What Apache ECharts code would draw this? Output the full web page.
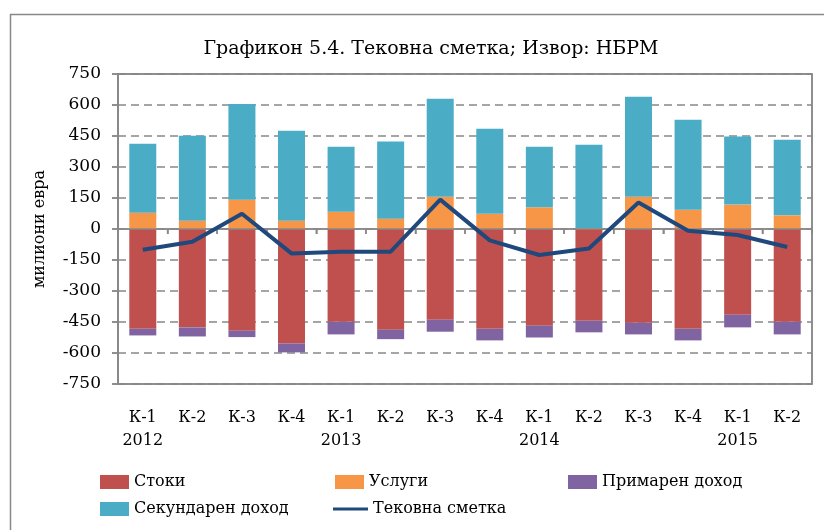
<!DOCTYPE html>
<html>
<head>
<meta charset="utf-8">
<script src="https://cdn.jsdelivr.net/npm/echarts@6/dist/echarts.min.js"></script>
<style>
      html, body { margin: 0; padding: 0; background: #fff; }
      #chart { width: 824px; height: 530px; }
</style>
</head>
<body>
<div id="chart"></div>
<script>
// квартали и години
const quarters = ["К-1", "К-2", "К-3", "К-4", "К-1", "К-2", "К-3", "К-4", "К-1", "К-2", "К-3", "К-4", "К-1", "К-2"];
const years = ["2012", "", "", "", "2013", "", "", "", "2014", "", "", "", "2015", ""];

// милиони евра
const stoki = [-483, -476, -492, -554, -449, -487, -439, -483, -468, -444, -454, -483, -415, -449];
const uslugi = [79, 40, 142, 40, 84, 50, 156, 74, 105, 5, 156, 93, 118, 66];
const primaren = [-32, -44, -31, -43, -61, -46, -58, -56, -57, -56, -56, -56, -61, -61];
const sekundaren = [334, 411, 463, 436, 314, 373, 474, 411, 293, 403, 484, 436, 329, 366];
const tekovna = [-100, -62, 74, -118, -110, -110, 142, -55, -126, -94, 128, -8, -29, -87];

const yTicks = { min: -750, max: 750, interval: 150 };

const font = "DejaVu Serif";
const gray = "#888888";

const categories = quarters.map((q, i) => (years[i] ? q + "\n" + years[i] : q));
// една точка по квартал, за рамката и цртичките на нултата линија
const frameData = quarters.map((q, i) => [i, 0]);

const chart = echarts.init(document.getElementById("chart"));

function legendAt(name, left, top, isLine) {
      return {
            data: [name],
            icon: "rect",
            left: left,
            top: top,
            itemWidth: isLine ? 35 : 29,
            itemHeight: isLine ? 3 : 14,
            itemGap: 5,
            padding: 0,
            textStyle: { fontFamily: font, fontSize: 16, color: "#000" },
      };
}

function seg(x1, y1, x2, y2) {
      return {
            type: "line",
            shape: { x1: x1, y1: y1, x2: x2, y2: y2 },
            style: { stroke: gray, lineWidth: 1.5, fill: null },
      };
}

// рамка, нулта линија и цртички, преку скалите на графиконот
function renderFrame(params, api) {
      const cs = params.coordSys;
      const i = params.dataIndex;
      const bw = api.size([1, 0])[0];
      const p = api.coord([i, 0]);
      const children = [];
      if (i < quarters.length - 1) {
            children.push(seg(p[0] + bw / 2, p[1], p[0] + bw / 2, p[1] + 5));
      }
      if (i === 0) {
            children.push({
                  type: "rect",
                  shape: { x: cs.x, y: cs.y, width: cs.width, height: cs.height },
                  style: { fill: "none", stroke: gray, lineWidth: 1.5 },
            });
            children.push(seg(cs.x, p[1], cs.x + cs.width, p[1]));
            for (let v = yTicks.min; v <= yTicks.max; v += yTicks.interval) {
                  const yy = api.coord([0, v])[1];
                  children.push(seg(cs.x - 6, yy, cs.x, yy));
            }
      }
      return { type: "group", children: children };
}

const option = {
      animation: false,
      textStyle: { fontFamily: font },
      graphic: [
            {
                  type: "rect",
                  left: 8,
                  top: 12,
                  shape: { width: 840, height: 540 },
                  style: { fill: "none", stroke: gray, lineWidth: 1.5 },
                  silent: true,
            },
      ],
      title: {
            text: "Графикон 5.4. Тековна сметка; Извор: НБРМ",
            left: 426,
            textAlign: "center",
            top: 35,
            textStyle: { fontFamily: font, fontSize: 19, fontWeight: "normal", color: "#000" },
      },
      legend: [
            legendAt("Стоки", 100, 474),
            legendAt("Услуги", 335, 474),
            legendAt("Примарен доход", 568, 474),
            legendAt("Секундарен доход", 100, 501),
            legendAt("Тековна сметка", 333, 501, true),
      ],
      grid: {
            left: 118,
            right: 12,
            top: 74,
            bottom: 146,
            show: true,
            borderColor: gray,
            borderWidth: 1.5,
      },
      xAxis: [
            {
                  type: "category",
                  data: categories,
                  position: "bottom",
                  axisLine: { show: true, onZero: true, lineStyle: { color: gray, width: 1.5 } },
                  axisTick: { show: true, length: 5, lineStyle: { color: gray, width: 1.5 } },
                  axisLabel: { show: false },
            },
            {
                  type: "category",
                  data: categories,
                  position: "bottom",
                  axisLine: { show: false, onZero: false },
                  axisTick: { show: false },
                  axisLabel: {
                        interval: 0,
                        margin: 22,
                        fontFamily: font,
                        fontSize: 16,
                        lineHeight: 23,
                        color: "#000",
                  },
            },
      ],
      yAxis: {
            type: "value",
            min: yTicks.min,
            max: yTicks.max,
            interval: yTicks.interval,
            name: "милиони евра",
            nameLocation: "middle",
            nameGap: 70,
            nameTextStyle: { fontFamily: font, fontSize: 16, color: "#000" },
            axisLine: { show: true, lineStyle: { color: gray, width: 1.5 } },
            axisTick: { show: true, length: 6, lineStyle: { color: gray, width: 1.5 } },
            axisLabel: { fontFamily: font, fontSize: 17, color: "#000", margin: 17 },
            splitLine: { lineStyle: { color: gray, width: 1.5, type: [8, 5] } },
      },
      series: [
            {
                  name: "Стоки",
                  type: "bar",
                  stack: "ca",
                  barWidth: 27,
                  data: stoki,
                  itemStyle: { color: "#C0504D" },
            },
            {
                  name: "Услуги",
                  type: "bar",
                  stack: "ca",
                  barWidth: 27,
                  data: uslugi,
                  itemStyle: { color: "#F79646" },
            },
            {
                  name: "Примарен доход",
                  type: "bar",
                  stack: "ca",
                  barWidth: 27,
                  data: primaren,
                  itemStyle: { color: "#8064A2" },
            },
            {
                  name: "Секундарен доход",
                  type: "bar",
                  stack: "ca",
                  barWidth: 27,
                  data: sekundaren,
                  itemStyle: { color: "#4BACC6" },
            },
            {
                  name: "frame",
                  type: "custom",
                  data: frameData,
                  renderItem: renderFrame,
                  clip: false,
                  silent: true,
                  z: 3,
            },
            {
                  name: "Тековна сметка",
                  type: "line",
                  data: tekovna,
                  symbol: "none",
                  z: 5,
                  lineStyle: { color: "#1F497D", width: 4 },
                  itemStyle: { color: "#1F497D" },
            },
      ],
};

chart.setOption(option);
</script>
</body>
</html>
